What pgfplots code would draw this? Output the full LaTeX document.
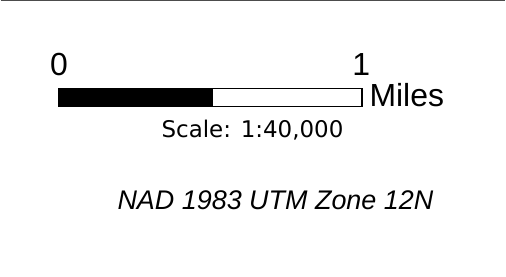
\documentclass[border=0pt]{standalone}
\usepackage{pgfplots}
\pgfplotsset{compat=1.18}
\usepackage{fontspec}
\setmainfont{Liberation Sans}
\newfontfamily\arialf{Liberation Sans}
\newfontfamily\tahomaf{DejaVu Sans}
\begin{document}
\begin{tikzpicture}
\begin{axis}[
  width=506bp, height=277bp, scale only axis,
  xmin=0, xmax=506, ymin=0, ymax=277,
  hide axis, clip=false,
]
% frame top line
\addplot[draw=black!70, line width=1.2bp] coordinates {(0,276.4) (506,276.4)};
% black segment
\addplot[draw=black, fill=black, line width=0.8bp] coordinates {(57.8,170.6) (212,170.6) (212,188.4) (57.8,188.4)} -- cycle;
% white segment
\addplot[draw=black, fill=white, line width=1.2bp] coordinates {(212,170.6) (362.3,170.6) (362.3,188.4) (212,188.4)} -- cycle;
\path (axis cs:0,0) rectangle (axis cs:506,277);
\node[anchor=base, inner sep=0pt] at (axis cs:58.5,201) {\arialf\fontsize{32bp}{32bp}\selectfont 0};
\node[anchor=base, inner sep=0pt] at (axis cs:361.5,201) {\arialf\fontsize{32bp}{32bp}\selectfont 1};
\node[anchor=base west, inner sep=0pt] at (axis cs:369.6,170) {\arialf\fontsize{32bp}{32bp}\selectfont Miles};
\node[anchor=base, inner sep=0pt] at (axis cs:252.5,139) {\tahomaf\fontsize{23bp}{23bp}\selectfont Scale: 1:40,000};
\node[anchor=base, inner sep=0pt] at (axis cs:275.5,67) {\arialf\itshape\fontsize{27bp}{27bp}\selectfont NAD 1983 UTM Zone 12N};
\end{axis}
\end{tikzpicture}
\end{document}
